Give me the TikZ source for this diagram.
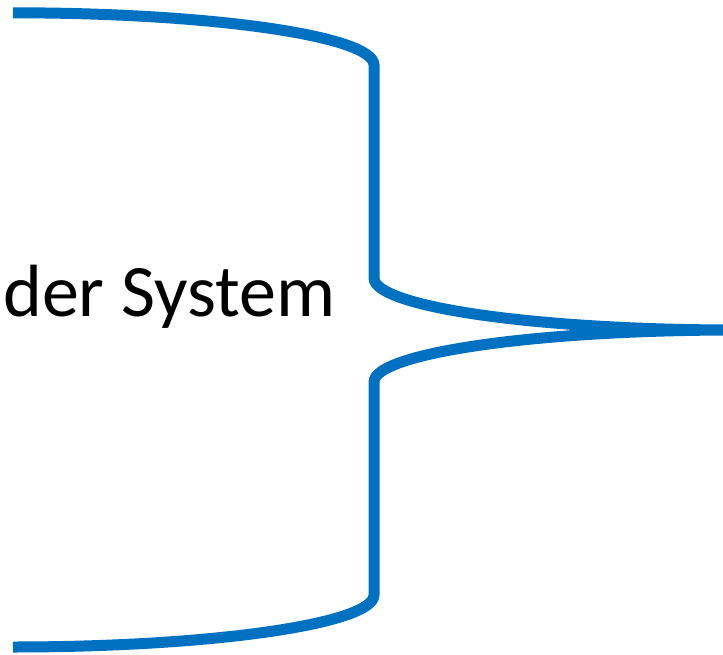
\documentclass[tikz,border=0pt]{standalone}
\usepackage{fontspec}
\setmainfont{Carlito}
\usetikzlibrary{positioning}
\definecolor{braceblue}{HTML}{0070C0}

\begin{document}
\begin{tikzpicture}[
  x=1pt,y=1pt,
  brace/.style={draw=braceblue,line width=11pt,line join=round},
  label/.style={inner sep=0pt,anchor=base west,
                font=\fontsize{74}{82}\selectfont},
]
\useasboundingbox (0,0) rectangle (723,-655);
\clip (0,0) rectangle (723,-655);

% the brace, made of four quarter ellipses
\coordinate (top) at (13,-12.8);
\coordinate (tip) at (735,-330);
\draw[brace] (top)
  arc[start angle=90,end angle=0,x radius=361,y radius=52.2]
  -- (374,-278)
  arc[start angle=180,end angle=270,x radius=361,y radius=52]
  arc[start angle=90,end angle=180,x radius=361,y radius=52]
  -- (374,-595)
  arc[start angle=0,end angle=-90,x radius=361,y radius=52];

\node[label] (name) at (3,-316) {der System};
\end{tikzpicture}
\end{document}
